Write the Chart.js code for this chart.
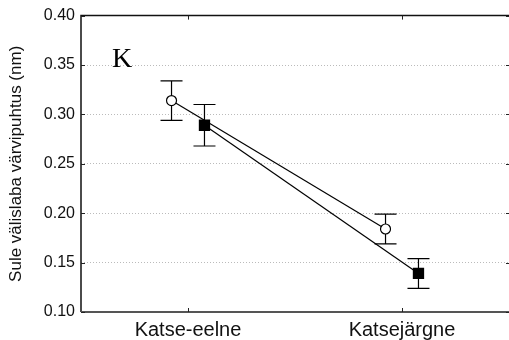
<!DOCTYPE html>
<html>
<head>
<meta charset="utf-8">
<script src="https://cdn.jsdelivr.net/npm/chart.js@4"></script>
<style>
  html, body { margin: 0; padding: 0; background: #fff; overflow: hidden; }
  #wrap { width: 509px; height: 340px; position: relative; }
</style>
</head>
<body>
<div id="wrap"><canvas id="graafik"></canvas></div>
<script>
// andmed
const kategooriad = ['Katse-eelne', 'Katsejärgne'];
const ringKeskmine = [0.314, 0.184];
const ringViga = [0.020, 0.015];
const ruutKeskmine = [0.289, 0.139];
const ruutViga = [0.021, 0.015];
const yTikid = [0.10, 0.15, 0.20, 0.25, 0.30, 0.35, 0.40];

const nihe = 0.077; // seeriate väike horisontaalne nihe

const ringPunktid = ringKeskmine.map((v, i) => ({ x: i + 1 - nihe, y: v }));
const ruutPunktid = ruutKeskmine.map((v, i) => ({ x: i + 1 + nihe, y: v }));

// veajooned + raam + "K"
const lisad = {
  id: 'lisad',
  beforeDatasetsDraw(chart) {
    const ctx = chart.ctx;
    const xs = chart.scales.x, ys = chart.scales.y;
    const joonista = (punktid, vead) => {
      punktid.forEach((p, i) => {
        const x = xs.getPixelForValue(p.x);
        const yUl = ys.getPixelForValue(p.y + vead[i]);
        const yAl = ys.getPixelForValue(p.y - vead[i]);
        ctx.save();
        ctx.strokeStyle = '#000';
        ctx.lineWidth = 1.2;
        ctx.beginPath();
        ctx.moveTo(x, yUl); ctx.lineTo(x, yAl);
        ctx.moveTo(x - 11, yUl); ctx.lineTo(x + 11, yUl);
        ctx.moveTo(x - 11, yAl); ctx.lineTo(x + 11, yAl);
        ctx.stroke();
        ctx.restore();
      });
    };
    joonista(ringPunktid, ringViga);
    joonista(ruutPunktid, ruutViga);
  },
  afterDraw(chart) {
    const ctx = chart.ctx;
    const a = chart.chartArea;
    const xs = chart.scales.x, ys = chart.scales.y;
    ctx.save();
    ctx.strokeStyle = '#111';
    ctx.lineWidth = 1.5;
    ctx.beginPath();
    ctx.moveTo(a.left, a.bottom); ctx.lineTo(a.left, a.top); ctx.lineTo(a.right, a.top);
    ctx.stroke();
    ctx.strokeStyle = '#555';
    ctx.lineWidth = 2;
    ctx.beginPath();
    ctx.moveTo(a.left, a.bottom); ctx.lineTo(a.right, a.bottom);
    ctx.stroke();
    // sissepoole tikid
    ctx.strokeStyle = '#222';
    ctx.lineWidth = 1;
    ctx.beginPath();
    yTikid.forEach(v => {
      const y = Math.round(ys.getPixelForValue(v)) + 0.5;
      ctx.moveTo(a.left, y); ctx.lineTo(a.left + 4, y);
      ctx.moveTo(a.right, y); ctx.lineTo(a.right - 3, y);
    });
    kategooriad.forEach((k, i) => {
      const x = Math.round(xs.getPixelForValue(i + 1)) + 0.5;
      ctx.moveTo(x, a.top); ctx.lineTo(x, a.top + 4);
      ctx.moveTo(x, a.bottom); ctx.lineTo(x, a.bottom - 4);
    });
    ctx.stroke();
    // paneeli täht
    ctx.fillStyle = '#000';
    ctx.font = '28px "Liberation Serif", "Times New Roman", serif';
    ctx.textBaseline = 'alphabetic';
    ctx.fillText('K', a.left + 31, 67);
    ctx.restore();
  }
};

new Chart(document.getElementById('graafik'), {
  type: 'line',
  data: {
    datasets: [
      {
        label: 'ring',
        data: ringPunktid,
        borderColor: '#000',
        borderWidth: 1.2,
        backgroundColor: '#fff',
        pointStyle: 'circle',
        pointRadius: 5,
        pointBorderWidth: 1.2,
        pointBackgroundColor: '#fff',
        pointBorderColor: '#000',
        pointHoverRadius: 5
      },
      {
        label: 'ruut',
        data: ruutPunktid,
        borderColor: '#000',
        borderWidth: 1.2,
        backgroundColor: '#000',
        pointStyle: 'rect',
        pointRadius: 8,
        pointBorderWidth: 0,
        pointBackgroundColor: '#000',
        pointBorderColor: '#000',
        pointHoverRadius: 8
      }
    ]
  },
  options: {
    responsive: true,
    maintainAspectRatio: false,
    animation: false,
    events: [],
    layout: { autoPadding: false, padding: { top: 15, right: 0, bottom: 0, left: 0 } },
    plugins: {
      legend: { display: false },
      tooltip: { enabled: false }
    },
    scales: {
      x: {
        type: 'linear',
        min: 0.5,
        max: 2.5,
        afterBuildTicks: scale => {
          scale.ticks = kategooriad.map((k, i) => ({ value: i + 1 }));
        },
        afterFit: scale => { scale.height = 28; },
        ticks: {
          color: '#111',
          padding: 6,
          maxRotation: 0,
          font: { family: '"Liberation Sans", Arial, sans-serif', size: 20 },
          callback: value => kategooriad[value - 1]
        },
        grid: { display: false, drawTicks: false },
        border: { display: false }
      },
      y: {
        min: 0.10,
        max: 0.40,
        afterBuildTicks: scale => {
          scale.ticks = yTikid.map(v => ({ value: v }));
        },
        afterFit: scale => { scale.width = 81; },
        ticks: {
          color: '#111',
          padding: 6,
          font: { family: '"Liberation Sans", Arial, sans-serif', size: 16 },
          callback: value => value.toFixed(2)
        },
        grid: {
          drawTicks: false,
          lineWidth: 1,
          color: ctx => (ctx.tick && (Math.abs(ctx.tick.value - 0.10) < 1e-6 || Math.abs(ctx.tick.value - 0.40) < 1e-6)) ? 'rgba(0,0,0,0)' : '#bbbbbb'
        },
        border: { display: false, dash: [1, 2] },
        title: {
          display: true,
          text: 'Sule välislaba värvipuhtus (nm)',
          color: '#111',
          padding: { top: 6, bottom: 0 },
          font: { family: '"Liberation Sans", Arial, sans-serif', size: 17 }
        }
      }
    }
  },
  plugins: [lisad]
});
</script>
</body>
</html>
